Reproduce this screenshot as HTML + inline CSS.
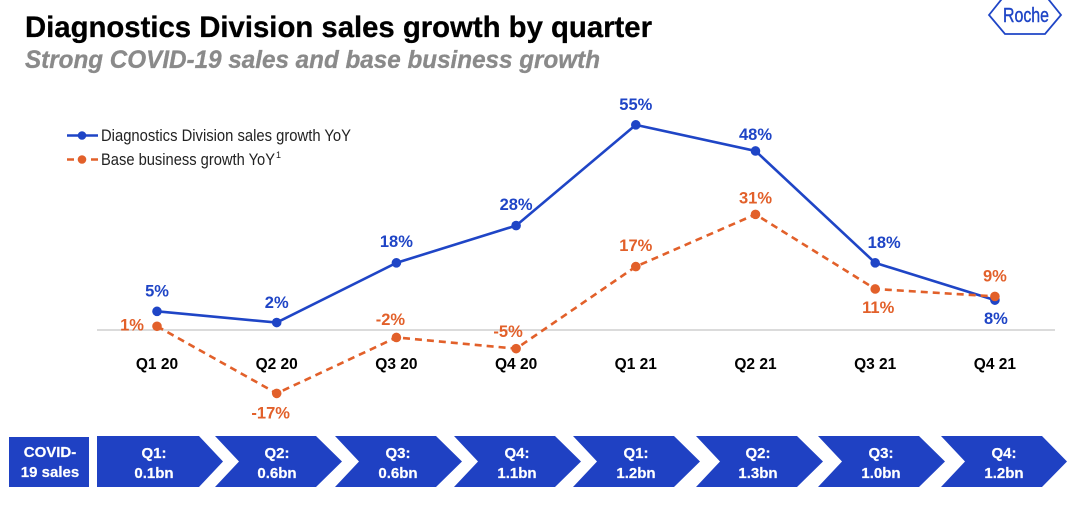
<!DOCTYPE html>
<html lang="en">
<head>
<meta charset="utf-8">
<title>Diagnostics Division sales growth by quarter</title>
<style>
html,body{margin:0;padding:0;background:#fff;width:1080px;height:517px;overflow:hidden}
svg{display:block;font-family:"Liberation Sans",sans-serif}
.chev-text{fill:#fff;font-weight:700;font-size:15px;text-anchor:middle;stroke:#fff;stroke-width:.2}
</style>
</head>
<body>
<svg id="chart" width="1080" height="517" viewBox="0 0 1080 517" xmlns="http://www.w3.org/2000/svg">
  <text x="25" y="37" font-size="30" font-weight="700" fill="#000" stroke="#000" stroke-width=".3" textLength="627" lengthAdjust="spacingAndGlyphs">Diagnostics Division sales growth by quarter</text>
  <text x="25" y="68" font-size="25" font-weight="700" font-style="italic" fill="#8a8a8a" stroke="#8a8a8a" stroke-width=".3" textLength="575" lengthAdjust="spacingAndGlyphs">Strong COVID-19 sales and base business growth</text>

  <g>
    <polygon points="989,15 1005,-5 1045,-5 1061,15 1045,34 1005,34" fill="none" stroke="#1f45c6" stroke-width="1.8"/>
    <text x="1003" y="22" font-size="20" fill="#1f45c6" stroke="#1f45c6" stroke-width=".4" textLength="46" lengthAdjust="spacingAndGlyphs">Roche</text>
  </g>

  <g>
    <g>
      <line x1="67" x2="98" y1="135.5" y2="135.5" stroke="#1f45c6" stroke-width="2.5"/>
      <circle cx="82" cy="135.5" r="4.3" fill="#1f45c6"/>
      <text x="101" y="141" font-size="16.5" fill="#222" textLength="250" lengthAdjust="spacingAndGlyphs">Diagnostics Division sales growth YoY</text>
    </g>
    <g>
      <line x1="67" x2="98" y1="159.5" y2="159.5" stroke="#e2602a" stroke-width="2.5" stroke-dasharray="7 5"/>
      <circle cx="82" cy="159.5" r="4.3" fill="#e2602a"/>
      <text x="101" y="165" font-size="16.5" fill="#222" textLength="174" lengthAdjust="spacingAndGlyphs">Base business growth YoY</text>
      <text x="276" y="158" font-size="9" fill="#222">1</text>
    </g>
  </g>

  <line x1="97" x2="1055" y1="330" y2="330" stroke="#cfcfcf" stroke-width="1.5"/>
  <g id="plot"></g>

  <g>
    <rect x="9" y="437" width="80" height="50" fill="#1f41c3"/>
    <text class="chev-text" x="50" y="457">COVID-</text>
    <text class="chev-text" x="50" y="477">19 sales</text>

    <g>
      <polygon points="97,436 199,436 223,461.5 199,487 97,487" fill="#1f41c3"/>
      <text class="chev-text" x="154" y="458">Q1:</text><text class="chev-text" x="154" y="478">0.1bn</text>
    </g>
    <g transform="translate(215 0)">
      <polygon points="0,436 101,436 127,461.5 101,487 0,487 24,461.5" fill="#1f41c3"/>
      <text class="chev-text" x="62" y="458">Q2:</text><text class="chev-text" x="62" y="478">0.6bn</text>
    </g>
    <g transform="translate(335 0)">
      <polygon points="0,436 101,436 127,461.5 101,487 0,487 24,461.5" fill="#1f41c3"/>
      <text class="chev-text" x="63" y="458">Q3:</text><text class="chev-text" x="63" y="478">0.6bn</text>
    </g>
    <g transform="translate(454 0)">
      <polygon points="0,436 101,436 127,461.5 101,487 0,487 24,461.5" fill="#1f41c3"/>
      <text class="chev-text" x="63" y="458">Q4:</text><text class="chev-text" x="63" y="478">1.1bn</text>
    </g>
    <g transform="translate(573 0)">
      <polygon points="0,436 101,436 127,461.5 101,487 0,487 24,461.5" fill="#1f41c3"/>
      <text class="chev-text" x="63" y="458">Q1:</text><text class="chev-text" x="63" y="478">1.2bn</text>
    </g>
    <g transform="translate(696 0)">
      <polygon points="0,436 101,436 127,461.5 101,487 0,487 24,461.5" fill="#1f41c3"/>
      <text class="chev-text" x="62" y="458">Q2:</text><text class="chev-text" x="62" y="478">1.3bn</text>
    </g>
    <g transform="translate(818 0)">
      <polygon points="0,436 101,436 127,461.5 101,487 0,487 24,461.5" fill="#1f41c3"/>
      <text class="chev-text" x="63" y="458">Q3:</text><text class="chev-text" x="63" y="478">1.0bn</text>
    </g>
    <g transform="translate(941 0)">
      <polygon points="0,436 101,436 126,461.5 101,487 0,487 24,461.5" fill="#1f41c3"/>
      <text class="chev-text" x="63" y="458">Q4:</text><text class="chev-text" x="63" y="478">1.2bn</text>
    </g>
  </g>
</svg>
<script>
const categories = ['Q1 20', 'Q2 20', 'Q3 20', 'Q4 20', 'Q1 21', 'Q2 21', 'Q3 21', 'Q4 21'];
const diagnosticsGrowth = [5, 2, 18, 28, 55, 48, 18, 8];
const baseBusinessGrowth = [1, -17, -2, -5, 17, 31, 11, 9];
const diagnosticsLabels = ['5%', '2%', '18%', '28%', '55%', '48%', '18%', '8%'];
const baseBusinessLabels = ['1%', '-17%', '-2%', '-5%', '17%', '31%', '11%', '9%'];

const NS = 'http://www.w3.org/2000/svg';
const plot = document.getElementById('plot');
const BLUE = '#1f45c6';
const ORANGE = '#e2602a';
/* label placement relative to each point, kept apart from the data */
const diagnosticsNudgeX = [0, 0, 0, 0, 0, 0, 9, 1];
const diagnosticsNudgeY = [-15, -14.5, -16, -15.6, -15, -11, -15, 24];
const baseBusinessNudgeX = [-25, -6, -6, -8, 0, 0, 3, 0];
const baseBusinessNudgeY = [4, 25, -12.5, -11.6, -15.6, -11, 24, -15];

function xScale(i) { return 157 + i * 119.7; }
function yScale(v) { return 330 - v * 3.73; }

function drawSeries(name, values, labels, nudgeX, nudgeY, color, dash) {
  const line = document.createElementNS(NS, 'polyline');
  
  
  line.setAttribute('points', values.map((v, i) => xScale(i) + ',' + yScale(v)).join(' '));
  line.setAttribute('fill', 'none');
  line.setAttribute('stroke', color);
  line.setAttribute('stroke-width', '2.6');
  if (dash) line.setAttribute('stroke-dasharray', dash);
  plot.appendChild(line);

  values.forEach((v, i) => {
    const dot = document.createElementNS(NS, 'circle');
    
    
    dot.setAttribute('cx', xScale(i));
    dot.setAttribute('cy', yScale(v));
    dot.setAttribute('r', '4.8');
    dot.setAttribute('fill', color);
    plot.appendChild(dot);

    const label = document.createElementNS(NS, 'text');
    
    
    label.setAttribute('x', xScale(i) + nudgeX[i]);
    label.setAttribute('y', yScale(v) + nudgeY[i]);
    label.setAttribute('text-anchor', 'middle');
    label.setAttribute('font-size', '16.5');
    label.setAttribute('font-weight', '700');
    label.setAttribute('fill', color);
    label.textContent = labels[i];
    plot.appendChild(label);
  });
}

categories.forEach((c, i) => {
  const t = document.createElementNS(NS, 'text');
  
  
  t.setAttribute('x', xScale(i));
  t.setAttribute('y', 369);
  t.setAttribute('text-anchor', 'middle');
  t.setAttribute('font-size', '15.5');
  t.setAttribute('font-weight', '700');
  t.setAttribute('fill', '#000');
  t.textContent = c;
  plot.appendChild(t);
});

drawSeries('diagnostics-growth', diagnosticsGrowth, diagnosticsLabels, diagnosticsNudgeX, diagnosticsNudgeY, BLUE, null);
drawSeries('base-business-growth', baseBusinessGrowth, baseBusinessLabels, baseBusinessNudgeX, baseBusinessNudgeY, ORANGE, '7 5');
</script>
</body>
</html>
